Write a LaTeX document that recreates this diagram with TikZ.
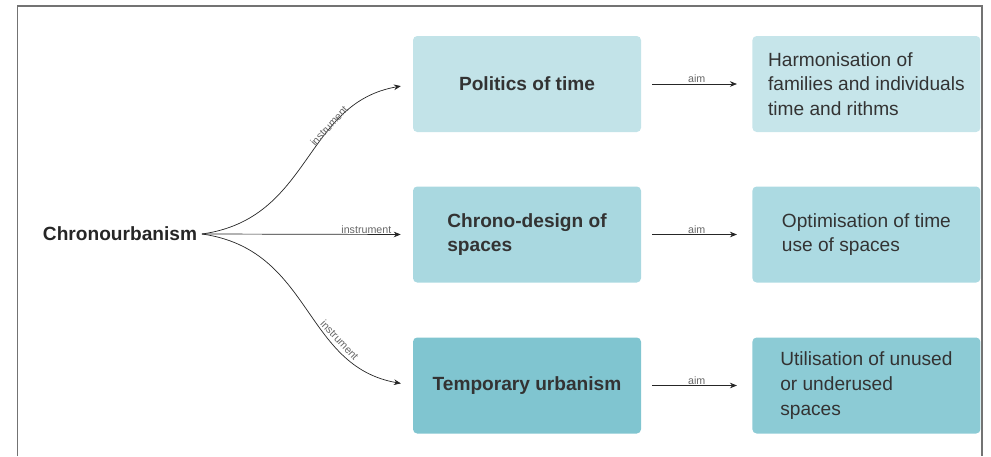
\documentclass[tikz,border=0pt]{standalone}
\usepackage{fontspec}
\setmainfont{Liberation Sans}
\usetikzlibrary{arrows.meta,positioning}

\definecolor{rowA}{HTML}{C2E3E8}
\definecolor{rowAr}{HTML}{C6E5EA}
\definecolor{rowB}{HTML}{A9D8E0}
\definecolor{rowBr}{HTML}{ACDAE2}
\definecolor{rowC}{HTML}{80C5D0}
\definecolor{rowCr}{HTML}{8CCBD5}

\begin{document}
\begin{tikzpicture}[
    box/.style={rounded corners=3pt, minimum width=5.7cm, minimum height=2.4cm,
                align=left, font=\fontsize{13.6}{17.5}\selectfont, text=black!80},
    head/.style={box, font=\fontsize{13.6}{17.5}\selectfont\bfseries},
    lbl/.style={font=\fontsize{7.6}{9}\selectfont, text=black!60, inner sep=0.5pt},
    arr/.style={-{Stealth[length=5pt,width=4pt]}, black!85, line width=0.5pt},
]
\useasboundingbox (0,0) rectangle (24.775,-11.4);
\draw[black!55, line width=0.8pt] (0.44,-11.4) -- (0.44,-0.15) -- (24.55,-0.15) -- (24.55,-11.4);

% Root
\node[font=\fontsize{13.6}{17.5}\selectfont\bfseries, text=black!85] (chrono) at (3.0,-5.85) {Chronourbanism};

% Instruments
\node[head, fill=rowA] (politics) at (13.175,-2.1) {Politics of time};
\node[head, fill=rowB] (design) at (13.175,-5.8625) {Chrono-design of\\spaces};
\node[head, fill=rowC] (temporary) at (13.175,-9.6375) {Temporary urbanism};

% Aims
\node[box, fill=rowAr] (harmon) at (21.66,-2.1) {Harmonisation of\\families and individuals\\time and rithms};
\node[box, fill=rowBr] (optim) at (21.66,-5.8625) {Optimisation of time\\use of spaces};
\node[box, fill=rowCr] (util) at (21.66,-9.6375) {Utilisation of unused\\or underused\\spaces};

% Branches
\draw[arr, shorten >=0.3cm] (chrono.east) to[out=8, in=190, looseness=1.1]
    node[lbl, pos=0.66, sloped, above] {instrument} (politics.west);
\draw[arr, shorten >=0.3cm] (chrono.east) --
    node[lbl, pos=0.78, above] {instrument} (design.west);
\draw[arr, shorten >=0.3cm] (chrono.east) to[out=-8, in=170, looseness=1.1]
    node[lbl, pos=0.68, sloped, above] {instrument} (temporary.west);

\draw[arr, shorten <=0.28cm, shorten >=0.38cm] (politics) -- node[lbl, above] {aim} (harmon);
\draw[arr, shorten <=0.28cm, shorten >=0.38cm] (design) -- node[lbl, above] {aim} (optim);
\draw[arr, shorten <=0.28cm, shorten >=0.38cm] (temporary) -- node[lbl, above] {aim} (util);
\end{tikzpicture}
\end{document}
